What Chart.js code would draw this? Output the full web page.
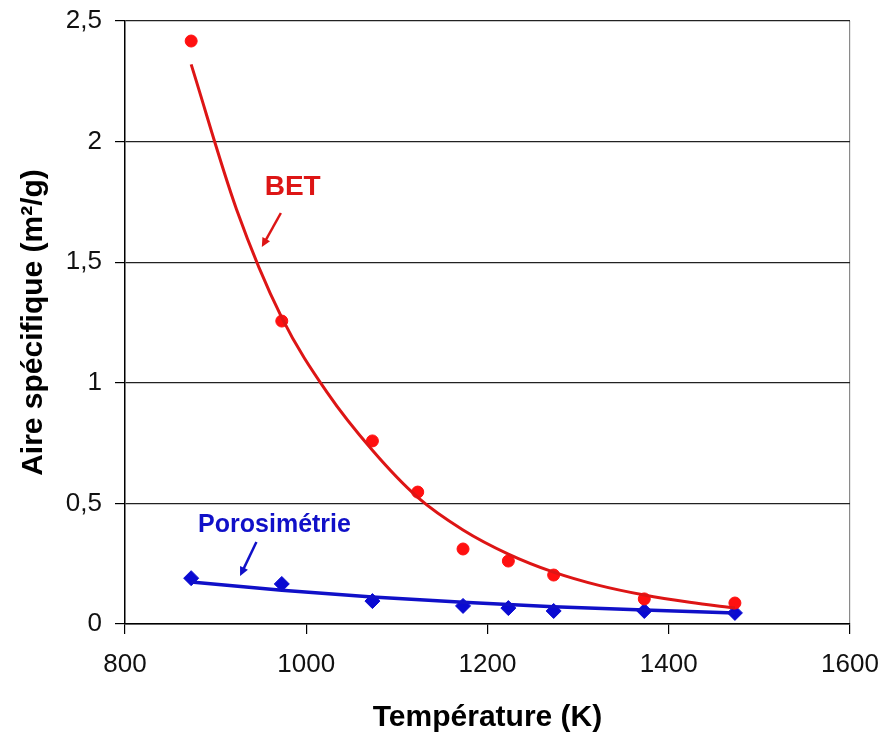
<!DOCTYPE html>
<html lang="fr">
<head>
<meta charset="utf-8">
<title>Aire spécifique en fonction de la température</title>
<script src="https://cdn.jsdelivr.net/npm/chart.js@4.4.1/dist/chart.umd.min.js"></script>
<style>
    html, body { margin: 0; padding: 0; background: #ffffff; }
    #wrap { width: 881px; height: 736px; position: relative; }
</style>
</head>
<body>
<div id="wrap"><canvas id="chart" width="881" height="736"></canvas></div>
<script>
// ======== DONNÉES ========
// Températures des mesures (K)
const temperatures = [873, 973, 1073, 1123, 1173, 1223, 1273, 1373, 1473];
// Aire spécifique BET (m2/g)
const betValues = [2.417, 1.256, 0.759, 0.547, 0.311, 0.261, 0.203, 0.104, 0.087];

// Porosimétrie (pas de mesure à 1123 K)
const poroTemperatures = [873, 973, 1073, 1173, 1223, 1273, 1373, 1473];
const poroValues = [0.19, 0.166, 0.095, 0.075, 0.066, 0.054, 0.054, 0.046];

// Courbes de tendance
const betTrendT = [873, 923, 973, 1023, 1073, 1123, 1173, 1223, 1273, 1323, 1373, 1423, 1473];
const betTrendValues = [2.32, 1.72, 1.27, 0.96, 0.72, 0.525, 0.39, 0.29, 0.215, 0.16, 0.12, 0.09, 0.066];
const poroTrendT = [873, 973, 1073, 1173, 1273, 1373, 1473];
const poroTrendValues = [0.174, 0.14, 0.112, 0.09, 0.072, 0.058, 0.046];

// Graduations des axes
const xTicks = [800, 1000, 1200, 1400, 1600];
const yTicks = [0, 0.5, 1, 1.5, 2, 2.5];

const RED = '#dd1515';
const BLUE = '#1010c8';
const FONT = '"Liberation Sans", Arial, sans-serif';

function toPoints(xs, ys) {
    return xs.map((x, i) => ({ x: x, y: ys[i] }));
}

// ======== ANNOTATIONS (étiquettes + flèches) ========
const annotations = [
    { text: 'BET', color: RED, size: 28, x: 985, y: 1.812, from: [972, 1.704], to: [951, 1.563] },
    { text: 'Porosimétrie', color: BLUE, size: 25, x: 965, y: 0.41, from: [945, 0.34], to: [927, 0.199] }
];

const annotationPlugin = {
    id: 'labels',
    afterDatasetsDraw(chart) {
        const { ctx, scales } = chart;
        const xs = scales.x, ys = scales.y;
        ctx.save();
        annotations.forEach(a => {
            ctx.fillStyle = a.color;
            ctx.strokeStyle = a.color;
            ctx.font = 'bold ' + a.size + 'px ' + FONT;
            ctx.textAlign = 'center';
            ctx.textBaseline = 'middle';
            ctx.fillText(a.text, xs.getPixelForValue(a.x), ys.getPixelForValue(a.y));

            const x1 = xs.getPixelForValue(a.from[0]), y1 = ys.getPixelForValue(a.from[1]);
            const x2 = xs.getPixelForValue(a.to[0]), y2 = ys.getPixelForValue(a.to[1]);
            const ang = Math.atan2(y2 - y1, x2 - x1);
            const head = 10;
            ctx.lineWidth = 2.5;
            ctx.beginPath();
            ctx.moveTo(x1, y1);
            ctx.lineTo(x2 - Math.cos(ang) * head * 0.6, y2 - Math.sin(ang) * head * 0.6);
            ctx.stroke();
            ctx.beginPath();
            ctx.moveTo(x2, y2);
            ctx.lineTo(x2 - head * Math.cos(ang - 0.45), y2 - head * Math.sin(ang - 0.45));
            ctx.lineTo(x2 - head * Math.cos(ang + 0.45), y2 - head * Math.sin(ang + 0.45));
            ctx.closePath();
            ctx.fill();
        });
        ctx.restore();
    }
};

// ======== GRAPHIQUE ========
const ctx = document.getElementById('chart').getContext('2d');
new Chart(ctx, {
    type: 'scatter',
    data: {
        datasets: [
            {
                label: 'Tendance BET',
                data: toPoints(betTrendT, betTrendValues),
                showLine: true,
                borderColor: RED,
                borderWidth: 3,
                pointRadius: 0,
                cubicInterpolationMode: 'monotone'
            },
            {
                label: 'Tendance porosimétrie',
                data: toPoints(poroTrendT, poroTrendValues),
                showLine: true,
                borderColor: BLUE,
                borderWidth: 3.5,
                pointRadius: 0,
                cubicInterpolationMode: 'monotone'
            },
            {
                label: 'BET',
                data: toPoints(temperatures, betValues),
                showLine: false,
                pointStyle: 'circle',
                pointRadius: 6,
                backgroundColor: '#ff1010',
                borderColor: '#ff1010',
                borderWidth: 1
            },
            {
                label: 'Porosimétrie',
                data: toPoints(poroTemperatures, poroValues),
                showLine: false,
                pointStyle: 'rectRot',
                pointRadius: 7.5,
                backgroundColor: '#0a0ad2',
                borderColor: '#0a0ad2',
                borderWidth: 1
            }
        ]
    },
    options: {
        responsive: false,
        animation: false,
        events: [],
        layout: { padding: { left: 0, top: 21, right: 31, bottom: 0 } },
        plugins: {
            legend: { display: false },
            tooltip: { enabled: false }
        },
        scales: {
            x: {
                type: 'linear',
                min: 800,
                max: 1600,
                afterBuildTicks: s => { s.ticks = xTicks.map(v => ({ value: v })); },
                afterFit: s => {
                    s.height = 112;
                    s.paddingLeft = 0;
                    s.paddingRight = 0;
                },
                border: { display: true, color: '#000', width: 1.5 },
                grid: {
                    drawOnChartArea: true,
                    color: c => (c.tick && c.tick.value === 1600) ? '#8a8a8a' : 'rgba(0,0,0,0)',
                    tickColor: '#000',
                    tickLength: 10,
                    lineWidth: 1.2
                },
                ticks: {
                    color: '#111',
                    font: { family: FONT, size: 26 },
                    padding: 15,
                    callback: v => String(v)
                },
                title: {
                    display: true,
                    text: 'Température (K)',
                    color: '#000',
                    font: { family: FONT, size: 30, weight: 'bold' },
                    padding: { top: 0, bottom: 0 }
                }
            },
            y: {
                type: 'linear',
                min: 0,
                max: 2.5,
                afterBuildTicks: s => { s.ticks = yTicks.map(v => ({ value: v })); },
                afterFit: s => {
                    s.width = 125;
                    s.paddingTop = 0;
                    s.paddingBottom = 0;
                },
                border: { display: true, color: '#000', width: 1.5 },
                grid: {
                    color: '#222',
                    tickColor: '#000',
                    tickLength: 10,
                    lineWidth: 1.2
                },
                ticks: {
                    color: '#111',
                    font: { family: FONT, size: 26 },
                    padding: 13,
                    callback: v => String(v).replace('.', ',')
                },
                title: {
                    display: true,
                    text: 'Aire spécifique (m²/g)',
                    color: '#000',
                    font: { family: FONT, size: 30, weight: 'bold' },
                    padding: { top: 16, bottom: 0 }
                }
            }
        }
    },
    plugins: [annotationPlugin]
});
</script>
</body>
</html>
